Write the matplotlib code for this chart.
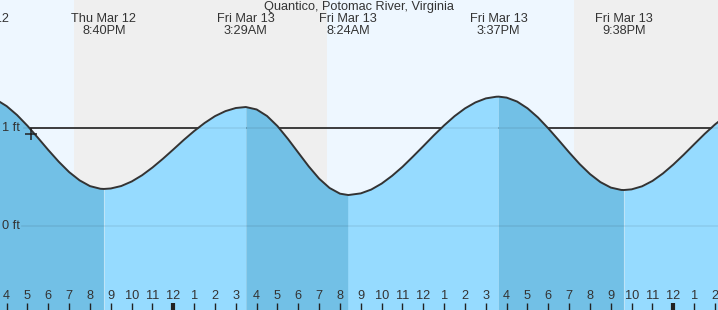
import matplotlib
matplotlib.use("Agg")
import matplotlib.pyplot as plt
import numpy as np

# ---- data (hours since Thu Mar 12 00:00) ----
title = "Quantico, Potomac River, Virginia"

curve_t = [15.0, 15.5, 16.0, 16.5, 17.0, 17.5, 18.0, 18.5, 19.0, 19.5, 20.0, 20.5, 20.67,
           21.0, 21.5, 22.0, 22.5, 23.0, 23.5, 24.0, 24.5, 25.0, 25.5, 26.0, 26.5, 27.0, 27.48,
           28.0, 28.5, 29.0, 29.5, 30.0, 30.5, 31.0, 31.5, 32.0, 32.4,
           33.0, 33.5, 34.0, 34.5, 35.0, 35.5, 36.0, 36.5, 37.0, 37.5, 38.0, 38.5, 39.0, 39.5, 39.62,
           40.0, 40.5, 41.0, 41.5, 42.0, 42.5, 43.0, 43.5, 44.0, 44.5, 45.0, 45.5, 45.63,
           46.0, 46.5, 47.0, 47.5, 48.0, 48.5, 49.0, 49.5, 50.0, 50.5]
curve_h = [1.324, 1.289, 1.223, 1.132, 1.022, 0.900, 0.775, 0.656, 0.550, 0.466, 0.407, 0.380, 0.378,
           0.383, 0.408, 0.454, 0.518, 0.597, 0.686, 0.781, 0.878, 0.969, 1.051, 1.121, 1.172, 1.204, 1.214,
           1.189, 1.122, 1.019, 0.889, 0.748, 0.608, 0.483, 0.388, 0.330, 0.316,
           0.333, 0.372, 0.433, 0.512, 0.604, 0.708, 0.815, 0.924, 1.027, 1.121, 1.200, 1.261, 1.302, 1.319, 1.320,
           1.310, 1.270, 1.201, 1.108, 0.996, 0.875, 0.751, 0.633, 0.530, 0.448, 0.392, 0.368, 0.367,
           0.374, 0.405, 0.460, 0.536, 0.627, 0.728, 0.834, 0.939, 1.036, 1.120]

extreme_t = [20.67, 27.48, 32.4, 39.62, 45.63]
extreme_lines1 = ["Thu Mar 12", "Fri Mar 13", "Fri Mar 13", "Fri Mar 13", "Fri Mar 13"]
extreme_lines2 = ["8:40PM", "3:29AM", "8:24AM", "3:37PM", "9:38PM"]
prev_label_t = 14.53
prev_label = ("Thu Mar 12", "2:43PM")

night_spans = [(19.25, 31.40), (43.22, 55.0)]
now_t, now_h = 17.18, 0.94
ylabels = [1, 0]

# ---- styling ----
day_col = "#EEF7FF"
night_col = "#EFEFEF"
rise_col = "#96DBFF"
fall_col = "#72C0E6"
txt_col = "#333333"

t0 = 15.68
t1 = t0 + 718 / 20.833
y0, y1 = -0.857, 2.306

fig = plt.figure(figsize=(7.18, 3.10), dpi=100)
ax = fig.add_axes([0, 0, 1, 1])
ax.set_xlim(t0, t1)
ax.set_ylim(y0, y1)
ax.axis("off")
ax.axvspan(t0, t1, color=day_col, lw=0, zorder=0)
for a, b in night_spans:
    ax.axvspan(a, b, color=night_col, lw=0, zorder=0.5)

t = np.array(curve_t)
h = np.array(curve_h)

# 1 ft reference line (under water)
xfrac = 24 / 718
ax.axhline(1, xmin=xfrac, xmax=1, color="#222222", lw=1.2, zorder=1)

# water fills: falling (high->low) darker, rising lighter
bounds = [t[0]] + extreme_t + [t[-1]]
for i in range(len(bounds) - 1):
    a, b = bounds[i], bounds[i + 1]
    m = (t >= a - 1e-9) & (t <= b + 1e-9)
    falling = (i % 2 == 0)
    ax.fill_between(t[m], y0 - 1, h[m], color=fall_col if falling else rise_col,
                    lw=0, zorder=2)

# faint grid lines across water
ax.axhline(1, xmin=xfrac, xmax=1, color="#000000", alpha=0.07, lw=1.2, zorder=3)
ax.axhline(0, xmin=22 / 718, xmax=1, color="#000000", alpha=0.07, lw=1.2, zorder=3)

ax.plot(t, h, color="#333333", lw=1.4, zorder=4, solid_capstyle="round")

ax.plot([now_t], [now_h], marker="+", ms=9, mew=1.1, color="#222222", zorder=5)

font = "Liberation Sans"
fs = 9.2
for v in ylabels:
    ax.text(2 / 718, v, f"{v} ft", transform=ax.get_yaxis_transform(), ha="left",
            va="center", fontsize=fs, color=txt_col, family=font, zorder=6)

# top labels
ax.text(0.5, 1 - 7 / 310, title, transform=ax.transAxes, ha="center", va="center",
        fontsize=fs, color=txt_col, family=font, zorder=6)
for tt, l1, l2 in [(prev_label_t,) + prev_label] + list(zip(extreme_t, extreme_lines1, extreme_lines2)):
    ax.text(tt, 1 - 19 / 310, l1, transform=ax.get_xaxis_transform(), ha="center",
            va="center", fontsize=fs, color=txt_col, family=font, zorder=6, clip_on=True)
    ax.text(tt, 1 - 31 / 310, l2, transform=ax.get_xaxis_transform(), ha="center",
            va="center", fontsize=fs, color=txt_col, family=font, zorder=6, clip_on=True)

# hour ticks
tr = ax.get_xaxis_transform()
for hr in range(int(np.ceil(t0)), int(np.floor(t1)) + 1):
    lab = hr % 12
    lab = 12 if lab == 0 else lab
    ax.text(hr, 1 - 296 / 310, str(lab), transform=tr, ha="center", va="center",
            fontsize=fs, color=txt_col, family=font, zorder=6)
    lw = 3 if hr % 24 == 0 else 1
    ax.plot([hr, hr], [0, 7 / 310], transform=tr, color="#222222", lw=lw,
            solid_capstyle="butt", zorder=6)

fig.savefig("out.png", dpi=100)
